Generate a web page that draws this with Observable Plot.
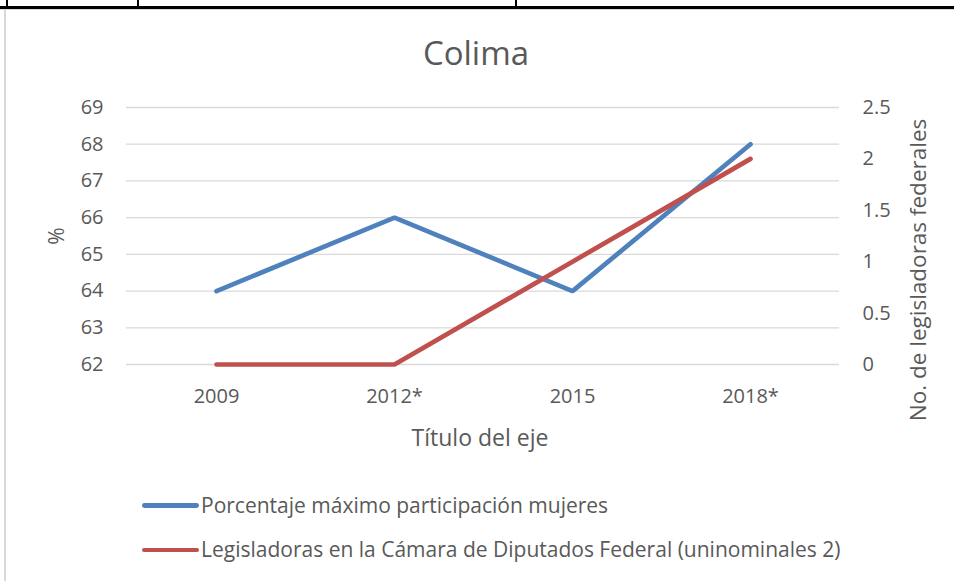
<!DOCTYPE html>
<html>
<head>
<meta charset="utf-8">
<script src="https://cdn.jsdelivr.net/npm/d3@7"></script>
<script src="https://cdn.jsdelivr.net/npm/@observablehq/plot@0.6"></script>
<style>
  html, body { margin: 0; padding: 0; background: #fff; }
  #wrap { position: relative; width: 954px; height: 581px; overflow: hidden; font-family: "Open Sans", sans-serif; color: #595959; }
  .abs { position: absolute; white-space: nowrap; }
</style>
</head>
<body>
<div id="wrap"></div>
<script>
// ---- data ----
const years = ["2009", "2012*", "2015", "2018*"];
const pctMujeres = [64, 66, 64, 68];            // left axis (%)
const legisladoras = [0, 0, 1, 2];              // right axis (No. de legisladoras federales)
const leftTicks = [62, 63, 64, 65, 66, 67, 68, 69];
const rightTicks = [0, 0.5, 1, 1.5, 2, 2.5];
const seriesNames = ["Porcentaje máximo participación mujeres", "Legisladoras en la Cámara de Diputados Federal (uninominales 2)"];
const colors = ["#4f81bd", "#c0504d"];

// map right-axis values onto the left scale
const leftDomain = [62, 69];
const rightDomain = [0, 2.5];
const toLeft = v => leftDomain[0] + (v - rightDomain[0]) * (leftDomain[1] - leftDomain[0]) / (rightDomain[1] - rightDomain[0]);

const blue = years.map((y, i) => ({year: y, value: pctMujeres[i]}));
const red = years.map((y, i) => ({year: y, value: toLeft(legisladoras[i])}));

const W = 954, H = 581;
const chart = Plot.plot({
  width: W,
  height: H,
  marginLeft: 126,
  marginRight: 115,
  marginTop: 107,
  marginBottom: 217,
  style: {fontFamily: "Open Sans, sans-serif", fontSize: "20px", color: "#595959", background: "transparent"},
  x: {type: "point", domain: years, padding: 0.5},
  y: {domain: leftDomain},
  marks: [
    Plot.gridY(leftTicks, {stroke: "#d9d9d9", strokeOpacity: 1, strokeWidth: 1.3}),
    Plot.axisY(leftTicks, {anchor: "left", tickSize: 0, tickPadding: 23, label: null, fill: "#595959", fontSize: 20}),
    Plot.axisY(rightTicks.map(toLeft), {anchor: "right", tickSize: 0, tickPadding: 23, label: null, fill: "#595959", fontSize: 20,
      textAnchor: "start",
      tickFormat: d => String(+(((d - leftDomain[0]) * (rightDomain[1] - rightDomain[0]) / (leftDomain[1] - leftDomain[0])).toFixed(2)))}),
    Plot.axisX(years, {anchor: "bottom", tickSize: 0, tickPadding: 24, label: null, fill: "#595959", fontSize: 20}),
    Plot.line(blue, {x: "year", y: "value", stroke: colors[0], strokeWidth: 4.7, strokeLinecap: "round", strokeLinejoin: "miter"}),
    Plot.line(red, {x: "year", y: "value", stroke: colors[1], strokeWidth: 4.7, strokeLinecap: "round", strokeLinejoin: "miter"})
  ]
});

const wrap = document.getElementById("wrap");
chart.style.position = "absolute";
chart.style.left = "0px";
chart.style.top = "0px";
wrap.appendChild(chart);

function div(css, text) {
  const d = document.createElement("div");
  d.className = "abs";
  d.style.cssText += css;
  if (text != null) d.textContent = text;
  wrap.appendChild(d);
  return d;
}

// page borders (table cell)
div("left:0;top:6px;width:954px;height:3px;background:#000;");
div("left:6px;top:0;width:2px;height:8px;background:#000;");
div("left:137px;top:0;width:2px;height:8px;background:#000;");
div("left:515px;top:0;width:2px;height:8px;background:#000;");
div("left:0;top:9px;width:954px;height:1px;background:#d9d9d9;");
div("left:4px;top:9px;width:2px;height:572px;background:#d9d9d9;");

// title
div("left:476px;top:53px;font-size:33px;line-height:40px;transform:translate(-50%,-50%);", "Colima");

// axis titles
div("left:56px;top:236px;font-size:21px;line-height:24px;transform:translate(-50%,-50%) rotate(-90deg);", "%");
div("left:918px;top:270px;font-size:22.5px;line-height:26px;transform:translate(-50%,-50%) rotate(-90deg);", "No. de legisladoras federales");
div("left:480px;top:437px;font-size:23px;line-height:26px;transform:translate(-50%,-50%);", "Título del eje");

// legend
[505.7, 550].forEach((y, i) => {
  div(`left:142px;top:${y - 2.4}px;width:57px;height:4.8px;border-radius:2.4px;background:${colors[i]};`);
  div(`left:201px;top:${y - 14}px;font-size:21px;line-height:26px;`, seriesNames[i]);
});
</script>
</body>
</html>
